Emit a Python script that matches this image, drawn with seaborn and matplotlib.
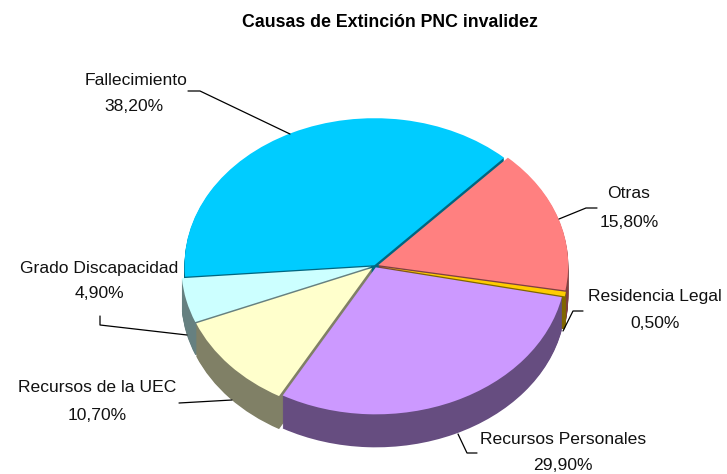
import numpy as np
import matplotlib
matplotlib.use("Agg")
import matplotlib.pyplot as plt
import seaborn as sns

categories = ["Fallecimiento", "Otras", "Residencia Legal", "Recursos Personales",
              "Recursos de la UEC", "Grado Discapacidad"]
values = [38.2, 15.8, 0.5, 29.9, 10.7, 4.9]
value_labels = ["38,20%", "15,80%", "0,50%", "29,90%", "10,70%", "4,90%"]
colors_hex = ["#00CCFF", "#FF8080", "#FFCC00", "#CC99FF", "#FFFFCC", "#CCFFFF"]
explode = [0.006, 0.018, 0.02, 0.01, 0.02, 0.02]
title = "Causas de Extinción PNC invalidez"

sns.set_theme(style="white")
plt.rcParams["font.family"] = ["Liberation Sans", "DejaVu Sans"]

W, H = 727, 474
CX, CY, RX, RY, DEPTH = 375, 266, 190, 147, 33

fig = plt.figure(figsize=(W / 100, H / 100), dpi=100, facecolor="white")
ax = fig.add_axes([0, 0, 1, 1])
palette = sns.color_palette(colors_hex)
dark = [tuple(np.array(c) * 0.5) for c in palette]
start = 184.5

for d in range(DEPTH, 0, -1):
    ax.pie(values, colors=dark, explode=explode, startangle=start, counterclock=False,
           center=(0, -d / RY), radius=1, frame=True, normalize=True,
           wedgeprops={"linewidth": 0})
ax.pie(values, colors=palette, explode=explode, startangle=start, counterclock=False,
       center=(0, 0), radius=1, frame=True, normalize=True,
       wedgeprops={"linewidth": 0})
ax.set_aspect("auto")
ax.set_xlim(-CX / RX, (W - CX) / RX)
ax.set_ylim((CY - H) / RY, CY / RY)
ax.axis("off")

ov = fig.add_axes([0, 0, 1, 1], facecolor="none")
ov.set_xlim(0, W)
ov.set_ylim(H, 0)
ov.axis("off")

label_pos = {
    "Fallecimiento": (136, 80, 134, 106),
    "Otras": (629, 194, 629, 222),
    "Residencia Legal": (655, 297, 655, 324),
    "Recursos Personales": (563, 440, 563, 466),
    "Recursos de la UEC": (97, 387, 97, 416),
    "Grado Discapacidad": (99, 268, 99, 294),
}
leaders = {
    "Fallecimiento": ([188, 200, 290], [91, 91, 134]),
    "Otras": ([597, 586, 559], [208, 208, 219]),
    "Residencia Legal": ([583, 573, 563], [311, 311, 331]),
    "Recursos Personales": ([477, 467, 458], [453, 453, 434]),
    "Recursos de la UEC": ([179, 232], [403, 400]),
    "Grado Discapacidad": ([100, 100, 187], [316, 325, 335]),
}
for name, vl in zip(categories, value_labels):
    x1, y1, x2, y2 = label_pos[name]
    ov.text(x1, y1, name, ha="center", va="center", fontsize=12.6, color="#111111")
    ov.text(x2, y2, vl, ha="center", va="center", fontsize=12.6, color="#111111")
    lx, ly = leaders[name]
    ov.plot(lx, ly, color="black", lw=0.9)

ov.text(390, 22, title, ha="center", va="center", fontsize=12.8, fontweight="bold", color="black")

fig.savefig("out.png", dpi=100, facecolor="white")
